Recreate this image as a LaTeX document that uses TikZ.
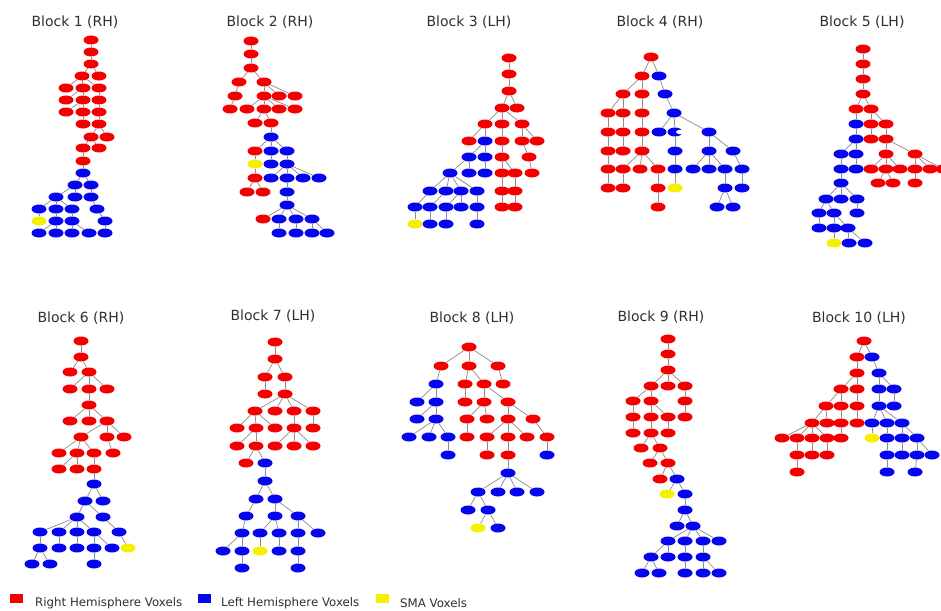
\documentclass[tikz,border=0pt]{standalone}
\usepackage{fontspec}
\newfontfamily\labfont{DejaVu Sans}
\usetikzlibrary{shapes.geometric}
\definecolor{vred}{HTML}{F50000}
\definecolor{vblue}{HTML}{0505F0}
\definecolor{vyel}{HTML}{F5F000}
\definecolor{edgc}{HTML}{8C8C8C}
\definecolor{txtc}{HTML}{303030}
\tikzset{
  vox/.style={ellipse, inner sep=0pt, minimum width=15pt, minimum height=9pt},
  rv/.style={vox, fill=vred},
  bv/.style={vox, fill=vblue},
  yv/.style={vox, fill=vyel},
  ed/.style={draw=edgc, line width=0.7pt},
  ttl/.style={font=\labfont\fontsize{14}{16}\selectfont, text=txtc, inner sep=0pt},
  leg/.style={font=\labfont\fontsize{11.8}{13}\selectfont, text=txtc, inner sep=0pt, anchor=west},
  sq/.style={inner sep=0pt, minimum width=13pt, minimum height=9pt}
}
\begin{document}
\begin{tikzpicture}[x=1pt,y=-1pt]
\useasboundingbox[fill=white] (0,0) rectangle (941,610);
% ---------------- titles
\node[ttl] (t1) at (75,22) {Block 1 (RH)};
\node[ttl] (t2) at (270,22) {Block 2 (RH)};
\node[ttl] (t3) at (469,22) {Block 3 (LH)};
\node[ttl] (t4) at (660,22) {Block 4 (RH)};
\node[ttl] (t5) at (862,22) {Block 5 (LH)};
\node[ttl] (t6) at (81,318) {Block 6 (RH)};
\node[ttl] (t7) at (273,316) {Block 7 (LH)};
\node[ttl] (t8) at (472,318) {Block 8 (LH)};
\node[ttl] (t9) at (661,317) {Block 9 (RH)};
\node[ttl] (t10) at (859,318) {Block 10 (LH)};
% ---------------- Block 1
\foreach \n/\x/\y in {a1/91/40,a2/91/52,a3/91/64,a4a/82/76,a4b/99/76,a5a/66/88,a5b/83/88,a5c/99/88,
  a6a/66/100,a6b/83/100,a6c/99/100,a7a/66/112,a7b/83/112,a7c/99/112,a8a/83/124,a8b/99/124,
  a9a/91/137,a9b/107/137,a10a/83/148,a10b/99/148,a11/83/161}
  \node[rv] (\n) at (\x,\y) {};
\foreach \n/\x/\y in {a12/83/173,a13a/75/185,a13b/91/185,a14a/56/197,a14b/75/197,a14c/91/197,
  a15a/39/209,a15b/56/209,a15c/72/209,a15d/97/209,a16b/56/221,a16c/72/221,a16d/105/221,
  a17a/39/233,a17b/56/233,a17c/72/233,a17d/89/233,a17e/105/233}
  \node[bv] (\n) at (\x,\y) {};
\node[yv] (a16a) at (39,221) {};
\foreach \p/\c in {a1/a2,a2/a3,a3/a4a,a3/a4b,a4a/a5a,a4a/a5b,a4a/a5c,a5b/a6a,a5b/a6b,a5c/a6c,
  a6b/a7a,a6b/a7b,a6c/a7c,a7b/a8a,a7c/a8b,a8b/a9a,a8b/a9b,a9a/a10a,a9a/a10b,a10a/a11,a11/a12,
  a12/a13a,a12/a13b,a13a/a14a,a13a/a14b,a13b/a14c,a14a/a15a,a14a/a15b,a14a/a15c,a14c/a15d,
  a15a/a16a,a15b/a16b,a15c/a16c,a15d/a16d,a16b/a17a,a16b/a17b,a16c/a17c,a16c/a17d,a16d/a17e}
  \draw[ed] (\p) -- (\c);
% ---------------- Block 2
\foreach \n/\x/\y in {b1/251/41,b2/251/54,b3/251/68,b4a/239/82,b4b/264/82,b5a/235/96,b5b/264/96,
  b5c/279/96,b5d/295/96,b6a/230/109,b6b/247/109,b6c/264/109,b6d/279/109,b6e/295/109,
  b7a/255/123,b7b/271/123,b9a/255/151,b11a/255/178,b12a/247/192,b12b/263/192,b14a/263/219}
  \node[rv] (\n) at (\x,\y) {};
\foreach \n/\x/\y in {b8/271/137,b9b/271/151,b9c/287/151,b10b/271/164,b10c/287/164,
  b11b/271/178,b11c/287/178,b11d/303/178,b11e/319/178,b12c/287/192,b13/287/205,
  b14b/279/219,b14c/296/219,b14d/312/219,b15a/279/233,b15b/296/233,b15c/312/233,b15d/327/233}
  \node[bv] (\n) at (\x,\y) {};
\node[yv] (b10a) at (255,164) {};
\foreach \p/\c in {b1/b2,b2/b3,b3/b4a,b3/b4b,b4a/b5a,b4b/b5b,b4b/b5c,b4b/b5d,b5a/b6a,b5b/b6b,
  b5b/b6c,b5b/b6d,b5b/b6e,b6c/b7a,b6c/b7b,b7b/b8,b8/b9a,b8/b9b,b8/b9c,b9a/b10a,b9b/b10b,
  b9c/b10c,b10a/b11a,b10c/b11b,b10c/b11c,b10c/b11d,b10c/b11e,b11a/b12a,b11a/b12b,b11c/b12c,
  b12c/b13,b13/b14a,b13/b14b,b13/b14c,b13/b14d,b14b/b15a,b14c/b15b,b14d/b15c,b14d/b15d}
  \draw[ed] (\p) -- (\c);
% ---------------- Block 3
\foreach \n/\x/\y in {c1/509/58,c2/509/74,c3/509/91,c4a/502/108,c4b/517/108,c5a/485/124,
  c5b/502/124,c5c/522/124,c6a/469/141,c6c/502/141,c6d/522/141,c6e/537/141,c7c/502/157,
  c7d/529/157,c8d/502/173,c8e/515/173,c8f/532/173,c9e/502/191,c9f/515/191,c10f/502/207,c10g/515/207}
  \node[rv] (\n) at (\x,\y) {};
\foreach \n/\x/\y in {c6b/485/141,c7a/469/157,c7b/485/157,c8a/450/173,c8b/469/173,c8c/485/173,
  c9a/430/191,c9b/446/191,c9c/461/191,c9d/477/191,c10a/415/207,c10b/430/207,c10c/446/207,
  c10d/461/207,c10e/477/207,c11b/430/224,c11c/446/224,c11d/477/224}
  \node[bv] (\n) at (\x,\y) {};
\node[yv] (c11a) at (415,224) {};
\foreach \p/\c in {c1/c2,c2/c3,c3/c4a,c3/c4b,c4a/c5a,c4a/c5b,c4a/c5c,c5a/c6a,c5a/c6b,c5b/c6c,
  c5c/c6d,c5c/c6e,c6b/c7a,c6b/c7b,c6c/c7c,c6d/c7d,c7a/c8a,c7a/c8b,c7b/c8c,c7c/c8d,c7c/c8e,
  c7d/c8f,c8a/c9a,c8a/c9b,c8a/c9c,c8a/c9d,c8d/c9e,c8e/c9f,c9a/c10a,c9b/c10b,c9c/c10c,c9c/c10d,
  c9d/c10e,c9e/c10f,c9f/c10g,c10a/c11a,c10b/c11b,c10c/c11c,c10e/c11d}
  \draw[ed] (\p) -- (\c);
% ---------------- Block 4
\foreach \n/\x/\y in {d1/651/57,d2a/642/76,d3a/623/94,d3b/642/94,d4a/608/113,d4b/623/113,
  d4c/642/113,d5a/608/132,d5b/623/132,d5c/642/132,d6a/608/151,d6b/623/151,d6c/642/151,
  d7a/608/169,d7b/623/169,d7c/640/169,d7d/658/169,d8a/608/188,d8b/623/188,d8c/658/188,d9a/658/207}
  \node[rv] (\n) at (\x,\y) {};
\foreach \n/\x/\y in {d2b/659/76,d3c/665/94,d4d/674/113,d5d/659/132,d5e/675/132,d5f/709/132,
  d6d/675/151,d6e/709/151,d6f/733/151,d7e/675/169,d7f/693/169,d7g/709/169,d7h/725/169,
  d7i/742/169,d8e/725/188,d8f/742/188,d9b/717/207,d9c/733/207}
  \node[bv] (\n) at (\x,\y) {};
\node[ellipse, fill=white, inner sep=0pt, minimum width=9pt, minimum height=4.5pt] (d5ehole) at (680.5,132) {};
\node[yv] (d8d) at (675,188) {};
\foreach \p/\c in {d1/d2a,d1/d2b,d2a/d3a,d2a/d3b,d2b/d3c,d3a/d4a,d3a/d4b,d3b/d4c,d3c/d4d,
  d4a/d5a,d4b/d5b,d4c/d5c,d4d/d5d,d4d/d5e,d4d/d5f,d5a/d6a,d5b/d6b,d5c/d6c,d5e/d6d,d5f/d6e,
  d5f/d6f,d6a/d7a,d6c/d7b,d6c/d7c,d6c/d7d,d6d/d7e,d6e/d7f,d6e/d7g,d6e/d7h,d6f/d7i,d7a/d8a,
  d7b/d8b,d7d/d8c,d7e/d8d,d7h/d8e,d7i/d8f,d8c/d9a,d8e/d9b,d8e/d9c}
  \draw[ed] (\p) -- (\c);
% ---------------- Block 5
\foreach \n/\x/\y in {e1/863/49,e2/863/64,e3/863/79,e4/863/94,e5a/856/109,e5b/871/109,
  e6b/871/124,e6c/886/124,e7b/871/139,e7c/886/139,e8c/886/154,e8d/915/154,e9c/871/169,
  e9d/886/169,e9e/900/169,e9f/915/169,e9g/930/169,e9h/943/169,e10b/878/183,e10c/893/183,e10d/915/183}
  \node[rv] (\n) at (\x,\y) {};
\foreach \n/\x/\y in {e6a/856/124,e7a/856/139,e8a/841/154,e8b/856/154,e9a/841/169,e9b/856/169,
  e10a/841/183,e11a/826/199,e11b/841/199,e11c/857/199,e12a/819/213,e12b/834/213,e12c/857/213,
  e13a/819/228,e13b/834/228,e13c/848/228,e14b/849/243,e14c/865/243}
  \node[bv] (\n) at (\x,\y) {};
\node[yv] (e14a) at (834,243) {};
\foreach \p/\c in {e1/e2,e2/e3,e3/e4,e4/e5a,e4/e5b,e5a/e6a,e5b/e6b,e5b/e6c,e6a/e7a,e6b/e7b,
  e6c/e7c,e7a/e8a,e7a/e8b,e7c/e8c,e7c/e8d,e8a/e9a,e8b/e9b,e8c/e9c,e8c/e9d,e8c/e9e,e8d/e9f,
  e8d/e9g,e8d/e9h,e9a/e10a,e9d/e10b,e9d/e10c,e9f/e10d,e10a/e11a,e10a/e11b,e10a/e11c,
  e11a/e12a,e11a/e12b,e11c/e12c,e12a/e13a,e12b/e13b,e12b/e13c,e13b/e14a,e13c/e14b,e13c/e14c}
  \draw[ed] (\p) -- (\c);
% ---------------- Block 6
\foreach \n/\x/\y in {f1/81/341,f2/81/357,f3a/70/372,f3b/89/372,f4a/70/389,f4b/89/389,
  f4c/107/389,f5/89/405,f6a/70/421,f6b/89/421,f6c/107/421,f7a/81/437,f7b/107/437,f7c/124/437,
  f8a/59/453,f8b/77/453,f8c/94/453,f8d/113/453,f9a/59/469,f9b/77/469,f9c/94/469}
  \node[rv] (\n) at (\x,\y) {};
\foreach \n/\x/\y in {f10/94/484,f11a/85/501,f11b/103/501,f12a/77/517,f12b/103/517,
  f13a/40/532,f13b/59/532,f13c/77/532,f13d/94/532,f13e/119/532,f14a/40/548,f14b/59/548,
  f14c/77/548,f14d/94/548,f14e/112/548,f15a/32/564,f15b/50/564,f15c/94/564}
  \node[bv] (\n) at (\x,\y) {};
\node[yv] (f14f) at (128,548) {};
\foreach \p/\c in {f1/f2,f2/f3a,f2/f3b,f3b/f4a,f3b/f4b,f3b/f4c,f4b/f5,f5/f6a,f5/f6b,f5/f6c,
  f6c/f7a,f6c/f7b,f6c/f7c,f7a/f8a,f7a/f8b,f7a/f8c,f7b/f8d,f8b/f9a,f8b/f9b,f8c/f9c,f9c/f10,
  f10/f11a,f10/f11b,f11a/f12a,f11a/f12b,f12a/f13a,f12a/f13b,f12a/f13c,f12a/f13d,f12b/f13e,
  f13a/f14a,f13b/f14b,f13c/f14c,f13d/f14d,f13d/f14e,f13e/f14f,f14a/f15a,f14a/f15b,f14d/f15c}
  \draw[ed] (\p) -- (\c);
% ---------------- Block 7
\foreach \n/\x/\y in {g1/275/342,g2/275/359,g3a/265/377,g3b/285/377,g4a/265/394,g4b/285/394,
  g5a/255/411,g5b/275/411,g5c/294/411,g5d/313/411,g6a/237/428,g6b/256/428,g6c/275/428,
  g6d/294/428,g6e/313/428,g7a/237/446,g7b/256/446,g7c/275/446,g7d/294/446,g7e/313/446,g8a/246/463}
  \node[rv] (\n) at (\x,\y) {};
\foreach \n/\x/\y in {g8b/265/463,g9/265/481,g10a/256/499,g10b/275/499,g11a/246/516,
  g11b/275/516,g11c/298/516,g12a/242/533,g12b/260/533,g12c/279/533,g12d/298/533,g12e/318/533,
  g13a/223/551,g13b/242/551,g13d/279/551,g13e/298/551,g14a/242/568,g14b/298/568}
  \node[bv] (\n) at (\x,\y) {};
\node[yv] (g13c) at (260,551) {};
\foreach \p/\c in {g1/g2,g2/g3a,g2/g3b,g3a/g4a,g3b/g4b,g4b/g5a,g4b/g5b,g4b/g5c,g4b/g5d,
  g5a/g6a,g5a/g6b,g5a/g6c,g5c/g6d,g5d/g6e,g6b/g7a,g6b/g7b,g6d/g7c,g6d/g7d,g6d/g7e,g7b/g8a,
  g7b/g8b,g8b/g9,g9/g10a,g9/g10b,g10a/g11a,g10b/g11b,g10b/g11c,g11a/g12a,g11b/g12b,g11b/g12c,
  g11c/g12d,g11c/g12e,g12a/g13a,g12a/g13b,g12b/g13c,g12c/g13d,g12d/g13e,g13b/g14a,g13e/g14b}
  \draw[ed] (\p) -- (\c);
% ---------------- Block 8
\foreach \n/\x/\y in {h1/469/347,h2a/441/366,h2b/469/366,h2c/498/366,h3b/465/384,h3c/484/384,
  h3d/503/384,h4c/465/402,h4d/484/402,h4e/508/402,h5c/467/419,h5d/487/419,h5e/508/419,
  h5f/533/419,h6d/467/437,h6e/487/437,h6f/508/437,h6g/527/437,h6h/547/437,h7b/487/455,h7c/508/455}
  \node[rv] (\n) at (\x,\y) {};
\foreach \n/\x/\y in {h3a/436/384,h4a/417/402,h4b/436/402,h5a/417/419,h5b/436/419,h6a/409/437,
  h6b/429/437,h6c/448/437,h7a/448/455,h7d/547/455,h8/508/473,h9a/478/492,h9b/498/492,
  h9c/517/492,h9d/537/492,h10a/468/510,h10b/488/510,h11b/498/528}
  \node[bv] (\n) at (\x,\y) {};
\node[yv] (h11a) at (478,528) {};
\foreach \p/\c in {h1/h2a,h1/h2b,h1/h2c,h2a/h3a,h2b/h3b,h2b/h3c,h2c/h3d,h3a/h4a,h3a/h4b,
  h3b/h4c,h3c/h4d,h3c/h4e,h4b/h5a,h4b/h5b,h4d/h5c,h4d/h5d,h4e/h5e,h4e/h5f,h5b/h6a,h5b/h6b,
  h5b/h6c,h5c/h6d,h5e/h6e,h5e/h6f,h5e/h6g,h5f/h6h,h6c/h7a,h6e/h7b,h6f/h7c,h6h/h7d,h7c/h8,
  h8/h9a,h8/h9b,h8/h9c,h8/h9d,h9a/h10a,h9a/h10b,h10b/h11a,h10b/h11b}
  \draw[ed] (\p) -- (\c);
% ---------------- Block 9
\foreach \n/\x/\y in {i1/668/339,i2/668/354,i3/668/370,i4a/651/386,i4b/668/386,i4c/685/386,
  i5a/633/401,i5b/651/401,i5c/685/401,i6a/633/417,i6b/651/417,i6c/668/417,i6d/685/417,
  i7a/633/433,i7b/651/433,i7c/668/433,i8a/641/448,i8b/660/448,i9a/650/463,i9b/668/463,i10a/660/479}
  \node[rv] (\n) at (\x,\y) {};
\foreach \n/\x/\y in {i10b/677/479,i11b/685/494,i12/685/510,i13a/677/526,i13b/693/526,
  i14a/668/541,i14b/685/541,i14c/703/541,i14d/719/541,i15a/651/557,i15b/668/557,i15c/685/557,
  i15d/703/557,i16a/642/573,i16b/659/573,i16c/685/573,i16d/703/573,i16e/719/573}
  \node[bv] (\n) at (\x,\y) {};
\node[yv] (i11a) at (667,494) {};
\foreach \p/\c in {i1/i2,i2/i3,i3/i4a,i3/i4b,i3/i4c,i4a/i5a,i4a/i5b,i4c/i5c,i5a/i6a,i5b/i6b,
  i5b/i6c,i5c/i6d,i6a/i7a,i6b/i7b,i6c/i7c,i7b/i8a,i7b/i8b,i8b/i9a,i8b/i9b,i9b/i10a,i9b/i10b,
  i10b/i11a,i10b/i11b,i11b/i12,i12/i13a,i12/i13b,i13b/i14a,i13b/i14b,i13b/i14c,i13b/i14d,
  i14a/i15a,i14a/i15b,i14b/i15c,i14c/i15d,i15a/i16a,i15a/i16b,i15c/i16c,i15d/i16d,i15d/i16e}
  \draw[ed] (\p) -- (\c);
% ---------------- Block 10
\foreach \n/\x/\y in {j1/864/341,j2a/857/357,j3a/857/373,j4a/841/389,j4b/857/389,j5a/826/406,
  j5b/841/406,j5c/857/406,j6a/812/423,j6b/827/423,j6c/841/423,j6d/857/423,j7a/782/438,
  j7b/797/438,j7c/812/438,j7d/827/438,j7e/841/438,j8a/797/455,j8b/812/455,j8c/827/455,j9a/797/472}
  \node[rv] (\n) at (\x,\y) {};
\foreach \n/\x/\y in {j2b/872/357,j3b/879/373,j4c/879/389,j4d/894/389,j5d/879/406,j5e/894/406,
  j6e/872/423,j6f/887/423,j6g/902/423,j7g/887/438,j7h/902/438,j7i/917/438,j8d/887/455,
  j8e/902/455,j8f/917/455,j8g/932/455,j9b/887/472,j9c/915/472}
  \node[bv] (\n) at (\x,\y) {};
\node[yv] (j7f) at (872,438) {};
\foreach \p/\c in {j1/j2a,j1/j2b,j2a/j3a,j2b/j3b,j3a/j4a,j3a/j4b,j3b/j4c,j3b/j4d,j4a/j5a,
  j4a/j5b,j4b/j5c,j4c/j5d,j4d/j5e,j5a/j6a,j5a/j6b,j5b/j6c,j5c/j6d,j5d/j6e,j5d/j6f,j5d/j6g,
  j6a/j7a,j6a/j7b,j6a/j7c,j6a/j7d,j6c/j7e,j6e/j7f,j6f/j7g,j6g/j7h,j6g/j7i,j7b/j8a,j7c/j8b,
  j7d/j8c,j7g/j8d,j7h/j8e,j7i/j8f,j7i/j8g,j8a/j9a,j8d/j9b,j8f/j9c}
  \draw[ed] (\p) -- (\c);
% ---------------- legend
\node[sq, fill=vred] (lr) at (16,598) {};
\node[leg] (lrt) at (35,603) {Right Hemisphere Voxels};
\node[sq, fill=vblue] (lb) at (204,598) {};
\node[leg] (lbt) at (221,603) {Left Hemisphere Voxels};
\node[sq, fill=vyel] (ly) at (382,598) {};
\node[leg] (lyt) at (400,603) {SMA Voxels};
\end{tikzpicture}
\end{document}
